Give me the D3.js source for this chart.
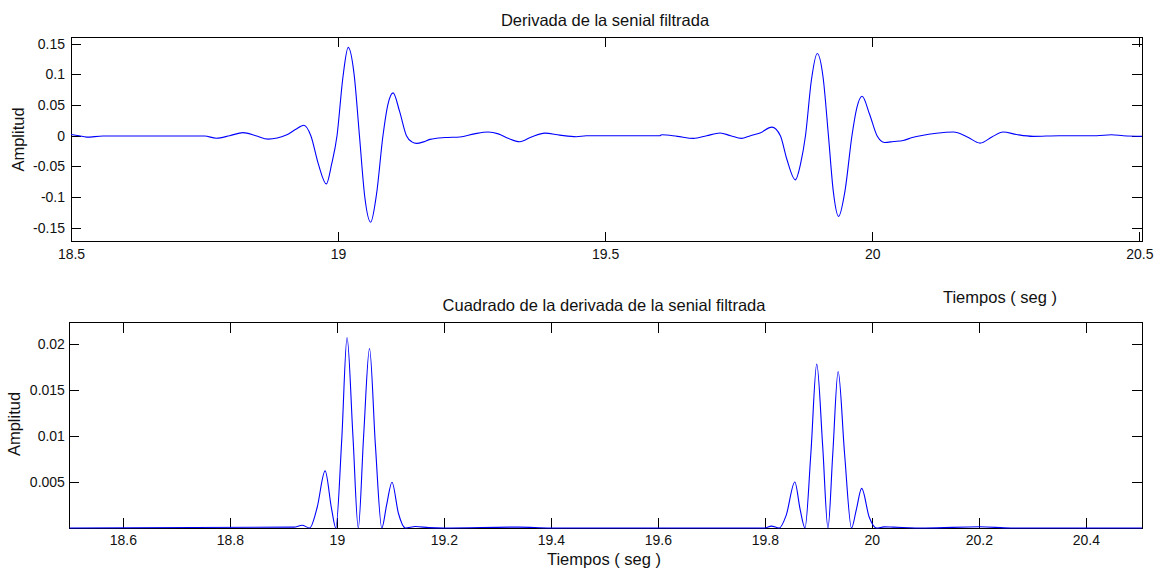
<!DOCTYPE html>
<html>
<head>
<meta charset="utf-8">
<script src="https://cdn.jsdelivr.net/npm/d3@7"></script>
<style>
  html, body { margin: 0; padding: 0; background: #fff; }
  svg { display: block; }
  text { font-family: "Liberation Sans", Arial, Helvetica, sans-serif; fill: #111; }
</style>
</head>
<body>
<svg id="chart" width="1158" height="569"></svg>
<script>
// ---------- DATA ----------
// Top panel: derivative of filtered signal (time in s, amplitude)
const derivTime = [
  18.500, 18.515, 18.529, 18.560, 18.750, 18.772, 18.797, 18.822, 18.846, 18.869,
  18.903, 18.920, 18.936, 18.949, 18.963, 18.978, 18.988, 18.998, 19.009, 19.019,
  19.030, 19.040, 19.050, 19.061, 19.072, 19.084, 19.093, 19.103, 19.115, 19.128,
  19.138, 19.147, 19.160, 19.172, 19.200, 19.228, 19.255, 19.281, 19.300, 19.318,
  19.340, 19.362, 19.387, 19.415, 19.446, 19.465, 19.602, 19.606, 19.635, 19.665,
  19.690, 19.715, 19.735, 19.755, 19.772, 19.790, 19.812, 19.828, 19.840, 19.856,
  19.866, 19.875, 19.886, 19.897, 19.908, 19.918, 19.927, 19.937, 19.949, 19.962,
  19.971, 19.981, 19.995, 20.009, 20.023, 20.040, 20.058, 20.075, 20.093, 20.120,
  20.152, 20.178, 20.202, 20.224, 20.245, 20.270, 20.301, 20.350, 20.420, 20.448,
  20.470, 20.505
];
const derivValue = [
  0.0020, 0.0000, -0.0023, -0.0005, -0.0005, -0.0040, 0.0000, 0.0050, 0.0000, -0.0055,
  0.0010, 0.0100, 0.0170, 0.0000, -0.0460, -0.0786, -0.0460, 0.0000, 0.0950, 0.1440,
  0.1000, 0.0000, -0.1000, -0.1410, -0.0950, 0.0000, 0.0500, 0.0698, 0.0400, 0.0000,
  -0.0100, -0.0125, -0.0100, -0.0060, -0.0030, -0.0020, 0.0030, 0.0060, 0.0030, -0.0040,
  -0.0098, -0.0020, 0.0043, 0.0010, -0.0016, 0.0000, 0.0000, 0.0016, -0.0010, -0.0044,
  0.0000, 0.0044, 0.0000, -0.0044, 0.0000, 0.0044, 0.0140, 0.0000, -0.0380, -0.0720,
  -0.0450, 0.0000, 0.0900, 0.1340, 0.0950, 0.0000, -0.0900, -0.1316, -0.0900, 0.0000,
  0.0450, 0.0643, 0.0350, 0.0000, -0.0110, -0.0095, -0.0077, -0.0030, 0.0005, 0.0040,
  0.0060, -0.0020, -0.0120, -0.0020, 0.0060, 0.0020, -0.0010, 0.0000, 0.0000, 0.0016,
  0.0000, -0.0010
];

// Bottom panel: square of the derivative
const squareTime = [
  18.500, 18.920, 18.935, 18.949, 18.963, 18.978, 18.990, 18.998, 19.009, 19.019,
  19.030, 19.040, 19.050, 19.061, 19.072, 19.084, 19.093, 19.103, 19.115, 19.128,
  19.147, 19.172, 19.200, 19.340, 19.400, 19.800, 19.812, 19.827, 19.840, 19.856,
  19.866, 19.875, 19.886, 19.897, 19.908, 19.918, 19.927, 19.937, 19.949, 19.962,
  19.971, 19.981, 19.995, 20.009, 20.023, 20.040, 20.100, 20.202, 20.260, 20.505
];
const squareValue = [
  0.00000, 0.00010, 0.00030, 0.00000, 0.00220, 0.00620, 0.00210, 0.00000, 0.00950, 0.02070,
  0.01000, 0.00000, 0.01000, 0.01950, 0.00900, 0.00000, 0.00250, 0.00497, 0.00160, 0.00000,
  0.00016, 0.00004, 0.00000, 0.00010, 0.00000, 0.00000, 0.00020, 0.00000, 0.00140, 0.00500,
  0.00200, 0.00000, 0.00810, 0.01780, 0.00900, 0.00000, 0.00810, 0.01700, 0.00810, 0.00000,
  0.00200, 0.00430, 0.00120, 0.00000, 0.00012, 0.00009, 0.00000, 0.00014, 0.00000, 0.00000
];

// Tick values / labels
const topXTicks = [18.5, 19, 19.5, 20, 20.5];
const topYTicks = [-0.15, -0.1, -0.05, 0, 0.05, 0.1, 0.15];
const botXTicks = [18.6, 18.8, 19, 19.2, 19.4, 19.6, 19.8, 20, 20.2, 20.4];
const botYTicks = [0.005, 0.01, 0.015, 0.02];

const titles = ["Derivada de la senial filtrada", "Cuadrado de la derivada de la senial filtrada"];
const xLabelText = "Tiempos ( seg )";
const yLabelText = "Amplitud";

// ---------- DRAWING ----------
const svg = d3.select("#chart");
svg.append("rect").attr("width", 1158).attr("height", 569).attr("fill", "#fff");

const fmt = d => String(+d.toFixed(4)).replace(/^(-?)0\./, "$10.");

function panel(cfg) {
  const { left, right, top, bottom, xDomain, yDomain, xTicks, yTicks, xPad, yPad, tTime, tVal, id } = cfg;
  const x = d3.scaleLinear().domain(xDomain).range([left, right]);
  const y = d3.scaleLinear().domain(yDomain).range([bottom, top]);
  const g = svg.append("g");

  // bottom axis (inside ticks + labels)
  const gxb = g.append("g").attr("transform", `translate(0,${bottom})`)
    .call(d3.axisBottom(x).tickValues(xTicks).tickSizeInner(-10).tickSizeOuter(0)
      .tickPadding(xPad).tickFormat(fmt));
  // top axis (mirror ticks)
  const gxt = g.append("g").attr("transform", `translate(0,${top})`)
    .call(d3.axisTop(x).tickValues(xTicks).tickSizeInner(-10).tickSizeOuter(0).tickFormat(""));
  // left axis
  const gyl = g.append("g").attr("transform", `translate(${left},0)`)
    .call(d3.axisLeft(y).tickValues(yTicks).tickSizeInner(-10).tickSizeOuter(0)
      .tickPadding(yPad).tickFormat(fmt));
  // right axis (mirror ticks)
  const gyr = g.append("g").attr("transform", `translate(${right},0)`)
    .call(d3.axisRight(y).tickValues(yTicks).tickSizeInner(-10).tickSizeOuter(0).tickFormat(""));

  [gxb, gxt, gyl, gyr].forEach(a => {
    a.select(".domain").remove();
    a.selectAll(".tick line").attr("stroke", "#000").attr("stroke-width", 1).attr("shape-rendering", "crispEdges");
    a.selectAll(".tick text").attr("font-size", 14).attr("fill", "#111")
      .attr("font-family", '"Liberation Sans", Arial, sans-serif');
  });

  // frame
  g.append("rect")
    .attr("x", left).attr("y", top)
    .attr("width", right - left).attr("height", bottom - top)
    .attr("fill", "none").attr("stroke", "#000").attr("stroke-width", 1)
    .attr("shape-rendering", "crispEdges");

  // clip + line
  svg.append("clipPath").attr("id", id)
    .append("rect").attr("x", left).attr("y", top - 1)
    .attr("width", right - left + 1).attr("height", bottom - top + 2);

  const pts = tTime.map((t, i) => [t, tVal[i]]);
  const line = d3.line().x(d => x(d[0])).y(d => y(d[1])).curve(d3.curveMonotoneX);
  svg.append("path")
    .attr("clip-path", `url(#${id})`)
    .attr("d", line(pts))
    .attr("fill", "none")
    .attr("stroke", "#0000ff")
    .attr("stroke-width", 1.1);
  return { x, y };
}

panel({
  id: "clipTop", left: 71, right: 1142, top: 37, bottom: 241.5,
  xDomain: [18.5, 20.505], yDomain: [-0.1725, 0.161],
  xTicks: topXTicks, yTicks: topYTicks, xPad: 8, yPad: 6,
  tTime: derivTime, tVal: derivValue
});

panel({
  id: "clipBot", left: 69.4, right: 1142, top: 322.7, bottom: 528,
  xDomain: [18.5, 20.505], yDomain: [0, 0.0223],
  xTicks: botXTicks, yTicks: botYTicks, xPad: 7, yPad: 4.5,
  tTime: squareTime, tVal: squareValue
});

// Titles and labels
const lab = (txt, x, y, size, rot) => {
  const t = svg.append("text").text(txt).attr("font-size", size)
    .attr("text-anchor", "middle").attr("fill", "#111");
  if (rot) t.attr("transform", `translate(${x},${y}) rotate(-90)`);
  else t.attr("x", x).attr("y", y);
  return t;
};
lab(titles[0], 605, 26, 16.5);
lab(titles[1], 604, 311, 16.5);
lab(xLabelText, 1000, 303, 16.5);
lab(xLabelText, 604, 565, 16.5);
lab(yLabelText, 24, 139.5, 16.5, true);
lab(yLabelText, 20, 424, 16.5, true);
</script>
</body>
</html>
